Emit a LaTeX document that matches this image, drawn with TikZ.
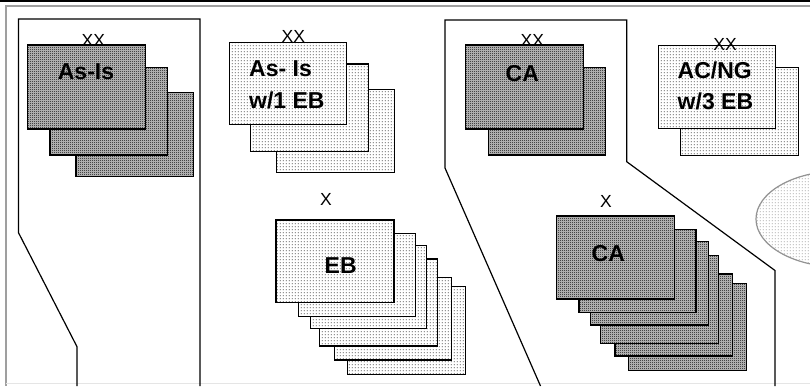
\documentclass[tikz,border=0pt]{standalone}
\usepackage{fontspec}
\setmainfont{Liberation Sans}
\usetikzlibrary{patterns}
\pgfdeclarepatternformonly{checkerfine}{\pgfpointorigin}{\pgfpoint{2pt}{2pt}}{\pgfpoint{2pt}{2pt}}{%
 \pgfpathrectangle{\pgfpointorigin}{\pgfpoint{1pt}{1pt}}%
 \pgfpathrectangle{\pgfpoint{1pt}{1pt}}{\pgfpoint{1pt}{1pt}}%
 \pgfusepath{fill}}
\pgfdeclarepatternformonly{dotgrid}{\pgfpointorigin}{\pgfpoint{3pt}{3pt}}{\pgfpoint{3pt}{3pt}}{%
 \pgfpathrectangle{\pgfpoint{1pt}{1pt}}{\pgfpoint{1pt}{1pt}}%
 \pgfusepath{fill}}
\tikzset{
  chk/.style={preaction={fill=black!22}, pattern=checkerfine, draw=black, line width=1.5pt},
  dotb/.style={preaction={fill=white}, pattern=dotgrid, draw=black, line width=1.5pt},
  panel/.style={draw=black, line width=1.2pt},
  lbl/.style={font=\fontsize{23}{31.7}\selectfont\bfseries, inner sep=0pt},
  cnt/.style={font=\fontsize{17.5}{17.5}\selectfont, inner sep=0pt, anchor=base},
}
\begin{document}
\begin{tikzpicture}[x=1pt,y=-1pt]
\useasboundingbox (0,0) rectangle (810,386);
\clip (0,0) rectangle (810,386);
% frame
\draw[black, line width=1.8pt] (0,0.9) -- (810,0.9);
\draw[gray!75, line width=1.8pt] (810,5.8) -- (5.8,5.8) -- (5.8,386);
\draw[black!10, line width=0.8pt] (5.8,383.5) -- (810,383.5);
% panels
\draw[panel] (77,386) -- (77,346.7) -- (18.5,232.7) -- (18.5,19) -- (200,19) -- (200,386);
\draw[panel] (540.5,386) -- (445,168) -- (445,20) -- (626.7,20) -- (626.7,161.7) -- (775,270.5) -- (775,386);
% ellipse
\draw[draw=gray!85, line width=1.2pt, preaction={fill=white}, pattern=dotgrid, pattern color=gray] (840,219) ellipse [x radius=84, y radius=48];
% group 1: As-Is
\draw[chk] (76,92.7) rectangle (193.3,176.7);
\draw[chk] (50,67.7) rectangle (167.3,155);
\draw[chk] (27.7,45) rectangle (145.7,129);
% group 2: As-Is w/1 EB
\draw[dotb] (276.7,89.3) rectangle (394.3,172.7);
\draw[dotb] (250.7,64) rectangle (368.3,151.7);
\draw[dotb] (229.3,42.3) rectangle (346.7,124.3);
% group 3: CA
\draw[chk] (488.3,67.7) rectangle (605.7,155);
\draw[chk] (465.7,45) rectangle (583.3,129);
% group 4: AC/NG w/3 EB
\draw[dotb] (680.7,67.7) rectangle (798.3,155.7);
\draw[dotb] (658.3,45.7) rectangle (775.7,128.3);
% group 5: EB
\draw[dotb] (347.7,286.7) rectangle (465.7,374.3);
\draw[dotb] (334.3,277.7) rectangle (451.7,360);
\draw[dotb] (319.3,259) rectangle (437.7,346);
\draw[dotb] (310.7,245.7) rectangle (426.7,328.3);
\draw[dotb] (298.3,233.3) rectangle (415.7,316.7);
\draw[dotb] (276,220) rectangle (394,302.3);
% group 6: CA
\draw[chk] (628.3,283.3) rectangle (746.7,370.7);
\draw[chk] (615,274) rectangle (732.3,356);
\draw[chk] (600.7,255.7) rectangle (718.3,343.3);
\draw[chk] (590.7,241.7) rectangle (708.3,325);
\draw[chk] (579,229.3) rectangle (696,312.7);
\draw[chk] (556.7,216) rectangle (674.3,299);
% labels
\node[lbl] (l1) at (86,72) {As-Is};
\node[lbl, align=left, anchor=west] (l2) at (249,84.5) {As- Is\\w/1 EB};
\node[lbl] (l3) at (522.3,74) {CA};
\node[lbl, align=left, anchor=west] (l4) at (677.5,86) {AC/NG\\w/3 EB};
\node[lbl] (l5) at (340.7,266) {EB};
\node[lbl] (l6) at (608.3,253.3) {CA};
% counts
\node[cnt] (c1) at (93.3,46.5) {XX};
\node[cnt] (c2) at (293.3,42.3) {XX};
\node[cnt] (c3) at (532.3,46.7) {XX};
\node[cnt] (c4) at (725,50) {XX};
\node[cnt] (c5) at (326,205) {X};
\node[cnt] (c6) at (606,207.7) {X};
\end{tikzpicture}
\end{document}
